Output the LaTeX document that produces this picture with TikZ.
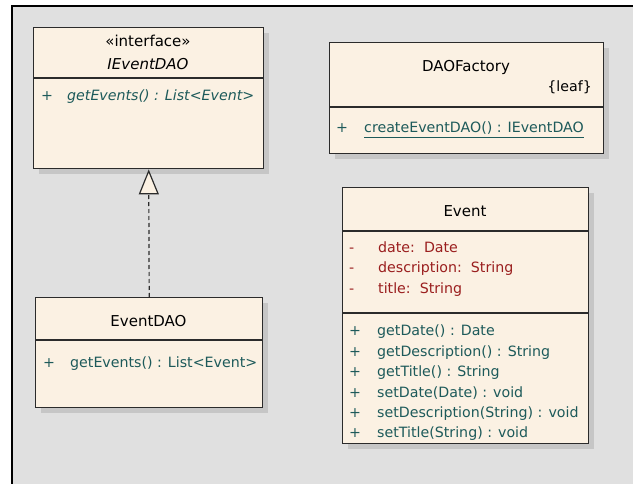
\documentclass[tikz,border=0pt]{standalone}
\usepackage{fontspec}
\setmainfont{DejaVu Sans}
\usetikzlibrary{arrows.meta,shadows,calc}

\definecolor{canvasgray}{HTML}{E0E0E0}
\definecolor{boxfill}{HTML}{FBF1E3}
\definecolor{boxline}{HTML}{2B2B2B}
\definecolor{shade}{HTML}{C6C6C6}
\definecolor{optext}{HTML}{1D5A5A}
\definecolor{attrtext}{HTML}{9A1E1E}

\tikzset{
  classbox/.style={draw=boxline, line width=1.4pt, fill=boxfill, inner sep=0pt,
    anchor=north west,
    drop shadow={shadow xshift=5pt, shadow yshift=-5pt, fill=shade, opacity=1}},
  classname/.style={anchor=base, inner sep=0pt, text=black,
    font=\fontsize{15}{18}\selectfont},
  member/.style={anchor=base west, inner sep=0pt,
    font=\fontsize{14.2}{17}\selectfont},
  op/.style={member, text=optext},
  attr/.style={member, text=attrtext},
  divider/.style={draw=boxline, line width=1.2pt},
  realization/.style={draw=boxline, line width=1.2pt, dash pattern=on 4pt off 3pt,
    -{Triangle[width=20pt, length=25pt, fill=boxfill]}},
}

\begin{document}
\begin{tikzpicture}[x=1pt, y=-1pt]
  \useasboundingbox (0,0) rectangle (633,484);
  % diagram canvas with its frame
  \fill[canvasgray] (12,6) rectangle (633,484);
  \draw[line width=2.4pt] (12,484) -- (12,6) -- (633,6);

  % interface IEventDAO
  \node[classbox, minimum width=230pt, minimum height=141pt] (iface) at (33,27) {};
  \draw[divider] (33,78) -- (263,78);
  \node[classname] (ifacestereo) at (148,46.5) {«interface»};
  \node[classname, font=\fontsize{15}{18}\selectfont\itshape] (ifacename) at (148,70) {IEventDAO};
  \node[op] (ifacevis) at (41,101) {+};
  \node[op, font=\fontsize{14.2}{17}\selectfont\itshape] (ifaceop) at (67,101) {getEvents() : List<Event>};

  % class EventDAO
  \node[classbox, minimum width=227pt, minimum height=110pt] (dao) at (35,297) {};
  \draw[divider] (35,340) -- (262,340);
  \node[classname] (daoname) at (148.5,326.5) {EventDAO};
  \node[op] (daovis) at (43,367) {+};
  \node[op] (daoop) at (70,367) {getEvents() : List<Event>};

  % realization EventDAO -> IEventDAO
  \draw[realization] (dao.north) -- (iface.south);

  % class DAOFactory
  \node[classbox, minimum width=274pt, minimum height=111pt] (factory) at (329,42) {};
  \draw[divider] (329,107) -- (603,107);
  \node[classname] (factoryname) at (466,72) {DAOFactory};
  \node[member, anchor=base east, text=black] (factoryleaf) at (592,92) {\{leaf\}};
  \node[op] (factoryvis) at (336,133) {+};
  \node[op] (factoryop) at (364,133) {createEventDAO() : IEventDAO};
  \draw[optext, line width=1pt] ($(factoryop.base west)+(0,4.5)$) -- ($(factoryop.base east)+(0,4.5)$);

  % class Event
  \node[classbox, minimum width=246pt, minimum height=256pt] (event) at (342,187) {};
  \draw[divider] (342,231) -- (588,231);
  \draw[divider] (342,313) -- (588,313);
  \node[classname] (eventname) at (465,217) {Event};
  \foreach \y/\txt [count=\i] in {252.5/{date:\ \ Date},
                                  273/{description:\ \ String},
                                  293.5/{title:\ \ String}} {
    \node[attr] (attrvis\i) at (349,\y) {-};
    \node[attr] (attr\i) at (378,\y) {\txt};
  }
  \foreach \y/\txt [count=\i] in {335.5/{getDate() : Date},
                                  356/{getDescription() : String},
                                  376.5/{getTitle() : String},
                                  397/{setDate(Date) : void},
                                  417.5/{setDescription(String) : void},
                                  438/{setTitle(String) : void}} {
    \node[op] (opvis\i) at (349,\y) {+};
    \node[op] (op\i) at (377,\y) {\txt};
  }
\end{tikzpicture}
\end{document}
